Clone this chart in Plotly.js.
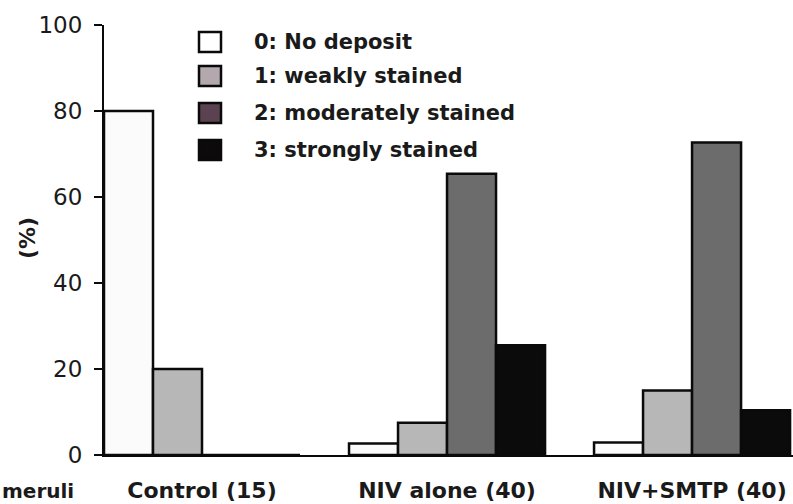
<!DOCTYPE html>
<html><head><meta charset="utf-8">
<script src="https://cdn.plot.ly/plotly-3.0.1.min.js"></script>
<style>html,body{margin:0;padding:0;background:#fff}</style>
</head><body><div id="chart" style="width:793px;height:504px"></div>
<script>
const categories = ['Control (15)', 'NIV alone (40)', 'NIV+SMTP (40)'];
const scoreNames = ['0: No deposit', '1: weakly stained', '2: moderately stained', '3: strongly stained'];
const score0 = [80, 2.7, 2.9];
const score1 = [20, 7.5, 15];
const score2 = [0, 65.4, 72.7];
const score3 = [0, 25.5, 10.4];
const yTicks = [0, 20, 40, 60, 80, 100];
const xLabel = 'meruli';
const yLabel = '(%)';

const barColors = ['#fbfbfb', '#b7b7b7', '#6c6c6c', '#0b0b0b'];
const legendColors = ['#ffffff', '#b2a8ad', '#5a4250', '#0c0a0b'];
const FONT = 'DejaVu Sans, Arial, sans-serif';
const TXT = '#1a1a1a';

const W = 793, H = 504, ML = 104, MR = 0, MT = 25, MB = 49;
const PW = W - ML - MR, PH = H - MT - MB;
const px = x => (x - ML) / PW;
const py = y => (H - MB - y) / PH;

const series = [score0, score1, score2, score3];
const traces = series.map((vals, i) => ({
  type: 'bar',
  x: categories,
  y: vals,
  name: scoreNames[i],
  marker: {color: barColors[i], line: {color: '#0a0a0a', width: 2.5}},
  showlegend: false,
  hoverinfo: 'skip'
}));

const legendY = [42, 76, 113, 150];
const shapes = [];
const annotations = [];
scoreNames.forEach((nm, i) => {
  shapes.push({
    type: 'rect', xref: 'paper', yref: 'paper',
    x0: px(199), x1: px(221), y0: py(legendY[i] + 10), y1: py(legendY[i] - 10),
    fillcolor: legendColors[i], line: {color: '#0a0a0a', width: 2.5}
  });
  annotations.push({
    xref: 'paper', yref: 'paper', x: px(252), y: py(legendY[i]),
    xanchor: 'left', yanchor: 'middle', showarrow: false, text: nm,
    font: {family: FONT, size: 21, weight: 'bold', color: TXT}
  });
});
annotations.push({
  xref: 'paper', yref: 'paper', x: px(27), y: py(238), textangle: -90,
  xanchor: 'center', yanchor: 'middle', showarrow: false, text: yLabel,
  font: {family: FONT, size: 22, weight: 'bold', color: TXT}
});
annotations.push({
  xref: 'paper', yref: 'paper', x: px(0), y: py(491),
  xanchor: 'left', yanchor: 'middle', showarrow: false, text: xLabel,
  font: {family: FONT, size: 20, weight: 'bold', color: TXT}
});

const layout = {
  width: W, height: H,
  margin: {l: ML, r: MR, t: MT, b: MB, pad: 0},
  paper_bgcolor: '#ffffff', plot_bgcolor: '#ffffff',
  barmode: 'group', bargap: 0.2, bargroupgap: 0,
  showlegend: false,
  xaxis: {
    type: 'category', range: [-0.4, 2.412], showline: true, linecolor: '#0a0a0a', linewidth: 2,
    ticks: '', showgrid: false, zeroline: false, ticklabelstandoff: 15,
    tickfont: {family: FONT, size: 22, weight: 'bold', color: TXT}, fixedrange: true
  },
  yaxis: {
    range: [0, 100], tickvals: yTicks, ticktext: yTicks.map(String),
    ticks: 'outside', ticklen: 8, tickwidth: 2, tickcolor: '#0a0a0a',
    showline: true, linecolor: '#0a0a0a', linewidth: 2, showgrid: false, zeroline: false,
    ticklabelstandoff: 7,
    tickfont: {family: FONT, size: 23, color: TXT}, fixedrange: true
  },
  shapes: shapes,
  annotations: annotations
};

Plotly.newPlot('chart', traces, layout, {displayModeBar: false, staticPlot: true});
</script></body></html>
